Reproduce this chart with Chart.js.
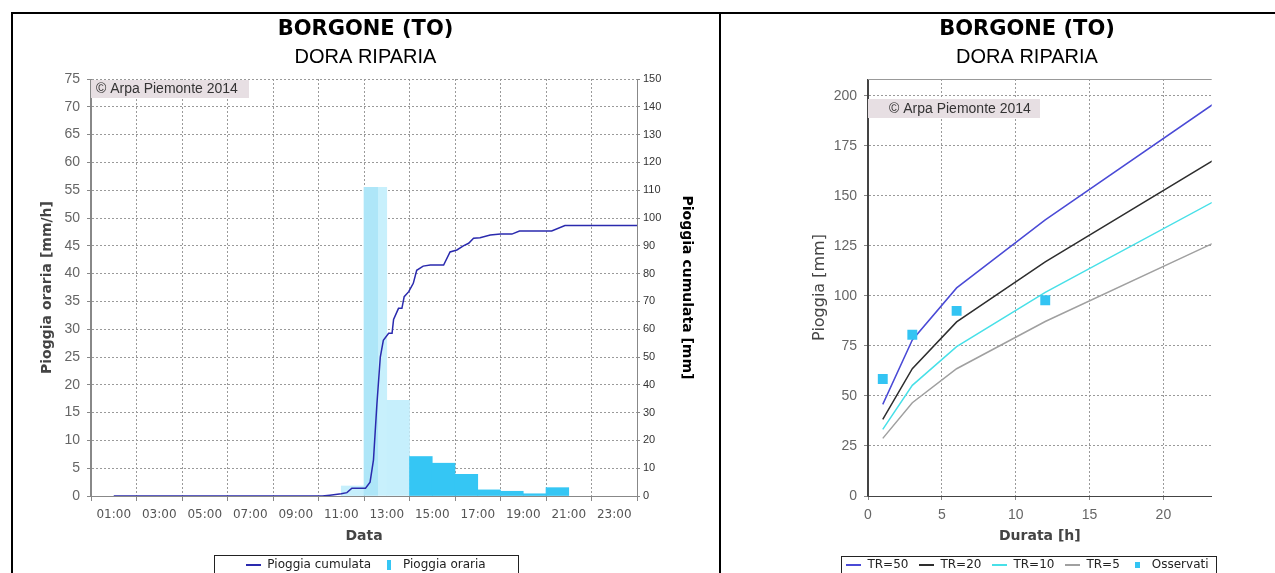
<!DOCTYPE html>
<html>
<head>
<meta charset="utf-8">
<title>BORGONE (TO) - DORA RIPARIA</title>
<script src="https://cdn.jsdelivr.net/npm/chart.js@4.4.1/dist/chart.umd.min.js"></script>
<style>
  html, body { margin: 0; padding: 0; background: #fff; }
  body { width: 1275px; height: 573px; overflow: hidden; position: relative; }
  .frame { position: absolute; left: 11px; top: 12px; width: 1400px; height: 700px;
           border-left: 2px solid #000; border-top: 2px solid #000; }
  .divider { position: absolute; left: 719px; top: 12px; width: 2px; height: 700px; background: #000; }
  canvas { position: absolute; top: 14px; }
  #rain { left: 13px; }
  #idf { left: 721px; }
</style>
</head>
<body>
<div class="frame"></div>
<div class="divider"></div>
<canvas id="rain" width="705" height="575"></canvas>
<canvas id="idf" width="612" height="575"></canvas>
<script>
// ---------- Pioggia oraria (mm/h), one bar per hour starting at the given time ----------
const hourStarts = ['11:00', '12:00', '13:00', '14:00', '15:00', '16:00', '17:00', '18:00', '19:00', '20:00'];
const hourlyRain = [1.8, 55.5, 17.2, 7.1, 5.9, 3.9, 1.1, 0.85, 0.4, 1.5];
const hourlyValidated = [false, false, false, true, true, true, true, true, true, true];

// ---------- Pioggia cumulata (mm) ----------
const cumTimes = ['01:00', '10:10', '10:30', '11:00', '11:15', '11:28', '12:04', '12:16', '12:25', '12:34',
                  '12:43', '12:51', '13:05', '13:14', '13:18', '13:31', '13:40', '13:46', '13:58', '14:10',
                  '14:19', '14:36', '14:55', '15:30', '15:47', '16:05', '16:22', '16:36', '16:49', '17:06',
                  '17:33', '18:00', '18:30', '18:50', '20:15', '20:50', '24:00'];
const cumRain = [0, 0, 0.3, 0.8, 1.2, 2.8, 2.8, 5.0, 13, 33,
                 50, 56, 58.5, 58.5, 63.5, 67.5, 67.5, 71.7, 73.5, 76.5,
                 81.2, 82.7, 83.1, 83.1, 87.8, 88.5, 90, 90.9, 92.7, 92.9,
                 93.9, 94.2, 94.2, 95.3, 95.3, 97.3, 97.3];

// ---------- Time axis labels ----------
const timeTicks = ['01:00', '03:00', '05:00', '07:00', '09:00', '11:00', '13:00', '15:00', '17:00', '19:00', '21:00', '23:00'];

// ---------- Curve di possibilita' pluviometrica (mm) by duration (h) ----------
const durations = [1, 3, 6, 12, 24];
const tr50 = [45.8, 78, 104, 138, 199];
const tr20 = [38.3, 63.6, 87, 117, 170.5];
const tr10 = [33.3, 55.3, 74.6, 101.8, 149.5];
const tr5  = [28.8, 46.6, 63.6, 87.2, 128.5];
const obsDurations = [1, 3, 6, 12];
const observed = [58.5, 80.6, 92.5, 97.8];

// ---------- helpers ----------
const toHours = t => { const [h, m] = t.split(':').map(Number); return h + m / 60; };

function lineSwatch(color, len) {
  const c = document.createElement('canvas');
  c.width = len; c.height = 2;
  const g = c.getContext('2d');
  g.fillStyle = color; g.fillRect(0, 0, len, 2);
  return c;
}
function rectSwatch(color, w, h) {
  const c = document.createElement('canvas');
  c.width = w; c.height = h;
  const g = c.getContext('2d');
  g.fillStyle = color; g.fillRect(0, 0, w, h);
  return c;
}

const COPYRIGHT = '\u00A9 Arpa Piemonte 2014';

// copyright label sitting on the plot area
const watermark = {
  id: 'watermark',
  beforeDatasetsDraw(chart, args, o) {
    const { ctx, chartArea: a } = chart;
    ctx.save();
    ctx.fillStyle = '#E7DFE3';
    ctx.fillRect(a.left + o.dx, a.top + o.dy, o.w, o.h);
    ctx.fillStyle = '#333';
    ctx.font = '14px "Liberation Sans"';
    ctx.textBaseline = 'middle';
    ctx.fillText(COPYRIGHT, a.left + o.tx, a.top + o.dy + o.h / 2 + 0.5);
    ctx.restore();
  }
};

// box drawn round the legend entries
const legendFrame = {
  id: 'legendFrame',
  afterDraw(chart, args, o) {
    const lg = chart.legend;
    if (!lg || !lg.legendHitBoxes || !lg.legendHitBoxes.length) return;
    const hb = lg.legendHitBoxes;
    const last = hb[hb.length - 1];
    const l = Math.round(hb[0].left - o.padLeft) + 0.5;
    const r = Math.round(last.left + last.width + o.padRight) + 0.5;
    const t = Math.round(lg.top + o.dy) + 0.5;
    const ctx = chart.ctx;
    ctx.save();
    ctx.strokeStyle = '#222';
    ctx.lineWidth = 1;
    ctx.strokeRect(l, t, r - l, 60);
    ctx.restore();
  }
};

// solid outline along the top of the plot
const plotTop = {
  id: 'plotTop',
  afterDatasetsDraw(chart, args, o) {
    if (!o.display) return;
    const { ctx, chartArea: a } = chart;
    ctx.save();
    ctx.strokeStyle = '#999';
    ctx.lineWidth = 1;
    ctx.beginPath();
    ctx.moveTo(a.left, Math.round(a.top) + 0.5);
    ctx.lineTo(a.right, Math.round(a.top) + 0.5);
    ctx.stroke();
    ctx.restore();
  }
};

Chart.defaults.font.family = 'DejaVu Sans';
Chart.defaults.color = '#555';

// dotted grid lines (Chart.js 4 takes the grid dash from border.dash)
const dashedGrid = { color: '#9a9a9a', lineWidth: 1, tickBorderDash: [], tickColor: '#888' };
const axisBorder = color => ({ display: true, color, width: 1, dash: [2, 2] });
const tickFontArial = { family: 'Liberation Sans', size: 14 };
const titleBlock = {
  title: { display: true, text: 'BORGONE (TO)', color: '#000',
           font: { family: 'DejaVu Sans', size: 21, weight: 'bold' }, padding: { top: 3.4, bottom: 0 } },
  subtitle: { display: true, text: 'DORA RIPARIA', color: '#000',
              font: { family: 'Liberation Sans', size: 20 }, padding: { top: 2.9, bottom: 9.5 } }
};
function legendBlock(swatches, sortByIndex) {
  return {
    position: 'bottom',
    labels: {
      usePointStyle: true, pointStyleWidth: 16, padding: 10, color: '#222',
      font: { family: 'DejaVu Sans', size: 12 },
      sort: sortByIndex ? (a, b) => a.datasetIndex - b.datasetIndex : undefined,
      generateLabels(chart) {
        const items = Chart.defaults.plugins.legend.labels.generateLabels(chart);
        items.forEach(it => { it.pointStyle = swatches[it.datasetIndex]; });
        return items;
      }
    }
  };
}

// solid axis lines drawn over the dotted grid
const solidAxes = {
  id: 'solidAxes',
  afterDatasetsDraw(chart, args, o) {
    const { ctx, chartArea: a } = chart;
    ctx.save();
    ctx.lineWidth = 1;
    for (const side of o.sides) {
      ctx.strokeStyle = side.color;
      ctx.beginPath();
      if (side.at === 'left') { ctx.moveTo(Math.round(a.left) - 0.5, a.top); ctx.lineTo(Math.round(a.left) - 0.5, a.bottom + 0.5); }
      if (side.at === 'right') { ctx.moveTo(Math.round(a.right) + 0.5, a.top); ctx.lineTo(Math.round(a.right) + 0.5, a.bottom + 0.5); }
      if (side.at === 'bottom') { ctx.moveTo(a.left, Math.round(a.bottom) + 0.5); ctx.lineTo(a.right, Math.round(a.bottom) + 0.5); }
      ctx.stroke();
    }
    ctx.restore();
  }
};

// ---------- left: hourly and cumulative rainfall ----------
const CUM_COLOR = '#2A2AAE';
const BAR_DARK = '#35C6F4';
const BAR_LIGHT = '#C6EFFC';
const peakRain = Math.max(...hourlyRain);

function barColor(c) {
  const i = c.dataIndex;
  if (i === undefined || hourlyValidated[i]) return BAR_DARK;
  if (hourlyRain[i] !== peakRain || !c.chart.scales.x) return BAR_LIGHT;
  // the peak hour is shown in two tones of light blue
  const xs = c.chart.scales.x;
  const h0 = toHours(hourStarts[i]);
  const g = c.chart.ctx.createLinearGradient(xs.getPixelForValue(h0), 0, xs.getPixelForValue(h0 + 1), 0);
  g.addColorStop(0, '#AEE6F8'); g.addColorStop(0.62, '#AEE6F8');
  g.addColorStop(0.62, '#C8F0FC'); g.addColorStop(1, '#C8F0FC');
  return g;
}

new Chart(document.getElementById('rain'), {
  type: 'bar',
  data: {
    datasets: [
      { type: 'line', label: 'Pioggia cumulata', yAxisID: 'y1', order: 0,
        data: cumTimes.map((t, i) => ({ x: toHours(t), y: cumRain[i] })),
        borderColor: CUM_COLOR, borderWidth: 1.5, pointRadius: 0, pointHoverRadius: 0,
        tension: 0, fill: false },
      { type: 'bar', label: 'Pioggia oraria', yAxisID: 'y', order: 1,
        data: hourStarts.map((t, i) => ({ x: toHours(t) + 0.5, y: hourlyRain[i] })),
        backgroundColor: barColor, borderWidth: 0, barPercentage: 1, categoryPercentage: 1 }
    ]
  },
  options: {
    responsive: false, animation: false, events: [],
    layout: { padding: { left: 15, right: 15, top: 0, bottom: 8 } },
    scales: {
      x: {
        type: 'linear', min: 0, max: 24, offset: false,
        afterBuildTicks: s => { s.ticks = timeTicks.map(t => ({ value: toHours(t) })); },
        afterFit: s => { s.height = 53; },
        ticks: { callback: (v, i) => timeTicks[i], autoSkip: false, maxRotation: 0,
                 font: { family: 'DejaVu Sans', size: 12 }, color: '#555', padding: 7 },
        grid: { ...dashedGrid, tickLength: 5 },
        border: axisBorder('#888'),
        title: { display: true, text: 'Data', color: '#444',
                 font: { family: 'DejaVu Sans', size: 14, weight: 'bold' }, padding: { top: 0, bottom: 4.6 } }
      },
      y: {
        position: 'left', min: 0, max: 75,
        afterFit: s => { s.width = 63; },
        ticks: { stepSize: 5, font: tickFontArial, color: '#666', padding: 7 },
        grid: { ...dashedGrid, tickLength: 4 },
        border: axisBorder('#888'),
        title: { display: true, text: 'Pioggia oraria [mm/h]', color: '#444',
                 font: { family: 'DejaVu Sans', size: 14, weight: 'bold' }, padding: { top: 10.6, bottom: 0 } }
      },
      y1: {
        position: 'right', min: 0, max: 150,
        afterFit: s => { s.width = 66; },
        ticks: { stepSize: 10, font: { family: 'Liberation Sans', size: 11 }, color: '#333', padding: 3 },
        grid: { drawOnChartArea: false, drawTicks: true, tickLength: 3, tickColor: '#888' },
        border: { display: true, color: '#888' },
        title: { display: true, text: 'Pioggia cumulata [mm]', color: '#000',
                 font: { family: 'DejaVu Sans', size: 14, weight: 'bold' }, padding: { top: 7.6, bottom: 0 } }
      }
    },
    plugins: {
      ...titleBlock,
      legend: legendBlock([lineSwatch(CUM_COLOR, 15), rectSwatch(BAR_DARK, 4, 10)], false),
      tooltip: { enabled: false },
      watermark: { dx: 0, dy: 1, w: 158, h: 18, tx: 5 },
      legendFrame: { padLeft: 31, padRight: 32, dy: 6 },
      plotTop: { display: false },
      solidAxes: { sides: [{ at: 'left', color: '#888' }, { at: 'right', color: '#888' }, { at: 'bottom', color: '#888' }] }
    }
  },
  plugins: [watermark, legendFrame, plotTop, solidAxes]
});

// ---------- right: depth-duration curves and observed maxima ----------
const curve = (label, values, color) => ({
  label, order: 1,
  data: durations.map((d, i) => ({ x: d, y: values[i] })),
  borderColor: color, backgroundColor: color, borderWidth: 1.5,
  pointRadius: 0, pointHoverRadius: 0, tension: 0, fill: false
});
const TR_COLORS = ['#4A4AD6', '#2E2E2E', '#48E0E8', '#A0A0A0'];
const OBS_COLOR = '#33C4F3';

new Chart(document.getElementById('idf'), {
  type: 'line',
  data: {
    datasets: [
      curve('TR=50', tr50, TR_COLORS[0]),
      curve('TR=20', tr20, TR_COLORS[1]),
      curve('TR=10', tr10, TR_COLORS[2]),
      curve('TR=5', tr5, TR_COLORS[3]),
      { label: 'Osservati', order: 0, showLine: false,
        data: obsDurations.map((d, i) => ({ x: d, y: observed[i] })),
        pointStyle: 'rect', pointRadius: 7, pointHoverRadius: 7,
        backgroundColor: OBS_COLOR, borderColor: OBS_COLOR, borderWidth: 0 }
    ]
  },
  options: {
    responsive: false, animation: false, events: [],
    layout: { padding: { left: 0, right: 0, top: 0, bottom: 8 } },
    scales: {
      x: {
        type: 'linear', min: 0, max: 23.27, offset: false,
        afterFit: s => { s.height = 53; },
        ticks: { stepSize: 5, includeBounds: false, font: tickFontArial, color: '#666', padding: 6.6, maxRotation: 0 },
        grid: { ...dashedGrid, tickLength: 4 },
        border: axisBorder('#444'),
        title: { display: true, text: 'Durata [h]', color: '#444',
                 font: { family: 'DejaVu Sans', size: 14, weight: 'bold' }, padding: { top: 0, bottom: 4.1 } }
      },
      y: {
        position: 'left', min: 0, max: 208.4,
        afterFit: s => { s.width = 147; },
        ticks: { stepSize: 25, includeBounds: false, font: tickFontArial, color: '#666', padding: 7 },
        grid: { ...dashedGrid, tickLength: 4 },
        border: axisBorder('#444'),
        title: { display: true, text: 'Pioggia [mm]', color: '#444',
                 font: { family: 'DejaVu Sans', size: 16 }, padding: { top: 89.4, bottom: 0 } }
      },
      // empty band to the right of the plot
      side: {
        position: 'right', display: true,
        afterFit: s => { s.width = 121.3; },
        ticks: { display: false }, grid: { display: false }, border: { display: false }
      }
    },
    plugins: {
      ...titleBlock,
      legend: legendBlock([
        lineSwatch(TR_COLORS[0], 15), lineSwatch(TR_COLORS[1], 15), lineSwatch(TR_COLORS[2], 15),
        lineSwatch(TR_COLORS[3], 15), rectSwatch(OBS_COLOR, 5, 6)
      ], true),
      tooltip: { enabled: false },
      watermark: { dx: 0, dy: 20, w: 172, h: 19, tx: 21 },
      legendFrame: { padLeft: 4, padRight: 7, dy: 7 },
      plotTop: { display: true },
      solidAxes: { sides: [{ at: 'left', color: '#444' }, { at: 'bottom', color: '#444' }] }
    }
  },
  plugins: [watermark, legendFrame, plotTop, solidAxes]
});
</script>
</body>
</html>
